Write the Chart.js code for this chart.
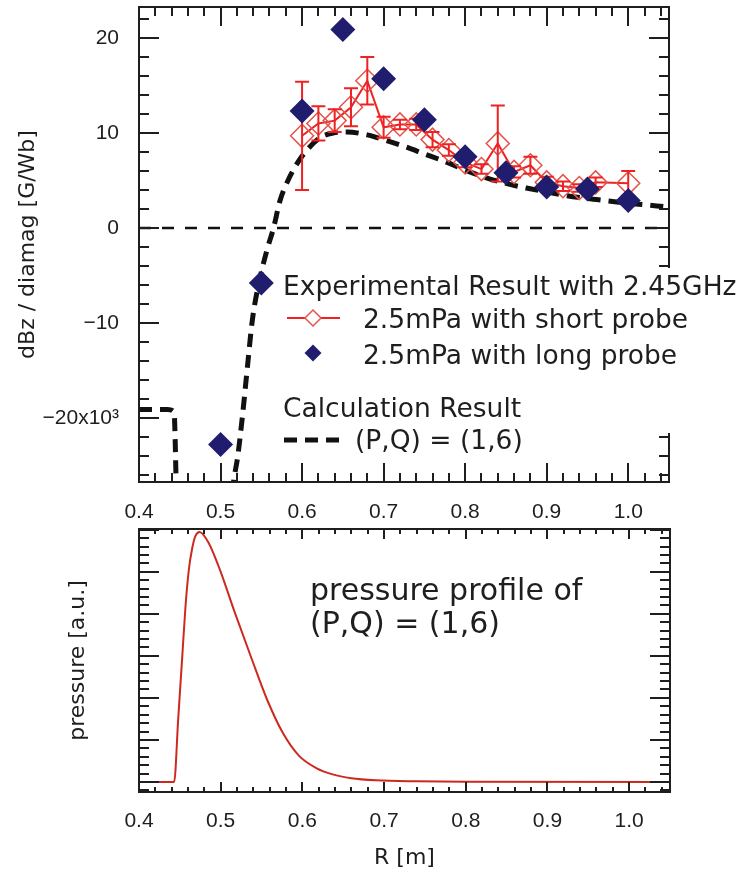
<!DOCTYPE html>
<html>
<head>
<meta charset="utf-8">
<script src="https://cdn.jsdelivr.net/npm/chart.js@4.4.1/dist/chart.umd.min.js"></script>
<style>
  html, body { margin: 0; padding: 0; background: #ffffff; }
  #wrap { position: relative; width: 740px; height: 875px; overflow: hidden; }
  canvas { position: absolute; left: 0; }
  #dbz { top: 0; }
  #press { top: 522px; }
</style>
</head>
<body>
<div id="wrap">
  <canvas id="dbz" width="740" height="525"></canvas>
  <canvas id="press" width="740" height="353"></canvas>
</div>
<script>
// ---- axis ticks ----
const rTicks = [0.4, 0.5, 0.6, 0.7, 0.8, 0.9, 1.0];
const rTickLabels = ['0.4', '0.5', '0.6', '0.7', '0.8', '0.9', '1.0'];
const dbzTicks = [20, 10, 0, -10, -20];
const dbzTickLabels = ['20', '10', '0', '\u221210', '\u221220x10\u00b3'];

// ---- experimental result, short probe (with error bars) ----
const shortR   = [0.60, 0.62, 0.64, 0.66, 0.68, 0.70, 0.72, 0.74, 0.76, 0.78, 0.80, 0.82, 0.84, 0.86, 0.88, 0.90, 0.92, 0.94, 0.96, 1.00];
const shortDbz = [9.7, 11.0, 11.3, 12.7, 15.5, 10.6, 10.9, 10.9, 9.3, 8.2, 6.9, 6.2, 8.9, 5.9, 6.6, 4.8, 4.4, 4.2, 4.8, 4.7];
const shortErr = [5.7, 1.8, 1.2, 2.0, 2.5, 1.1, 0.5, 0.6, 0.8, 0.6, 0.5, 0.5, 4.0, 0.6, 0.9, 0.6, 0.5, 0.4, 0.5, 1.3];

// ---- experimental result, long probe ----
const longR   = [0.50, 0.55, 0.60, 0.65, 0.70, 0.75, 0.80, 0.85, 0.90, 0.95, 1.00];
const longDbz = [-22.8, -5.8, 12.3, 20.9, 15.7, 11.4, 7.5, 5.8, 4.3, 4.1, 2.9];

// ---- calculation result (P,Q) = (1,6) ----
const calcR   = [0.40, 0.435, 0.443, 0.447, 0.512, 0.516, 0.521, 0.527, 0.533, 0.539, 0.547, 0.557, 0.565, 0.573, 0.583, 0.594, 0.606, 0.622, 0.638, 0.655, 0.68, 0.70, 0.725, 0.75, 0.775, 0.80, 0.825, 0.85, 0.875, 0.90, 0.925, 0.95, 0.975, 1.00, 1.025, 1.05];
const calcDbz = [-19.1, -19.1, -19.4, -30, -30, -26.7, -24.1, -19.7, -14.6, -9.7, -5.8, -2.3, 0.0, 2.9, 5.05, 6.8, 8.2, 9.5, 10.0, 10.1, 9.8, 9.3, 8.6, 7.8, 7.0, 6.1, 5.3, 4.7, 4.2, 3.8, 3.4, 3.1, 2.85, 2.6, 2.4, 2.2];

// ---- zero reference line ----
const zeroR   = [0.4, 1.05];
const zeroDbz = [0, 0];

// ---- pressure profile of (P,Q) = (1,6) ----
const pressR = [0.40, 0.443, 0.448, 0.453, 0.457, 0.461, 0.465, 0.469, 0.474, 0.485, 0.500, 0.516, 0.537, 0.557, 0.576, 0.596, 0.617, 0.637, 0.660, 0.690, 0.740, 0.800, 1.05];
const pressP = [0, 0, 1.5, 3.0, 4.2, 5.05, 5.55, 5.85, 5.95, 5.7, 5.0, 4.1, 2.98, 1.95, 1.17, 0.62, 0.33, 0.18, 0.09, 0.04, 0.015, 0.005, 0];

const pts = (xs, ys) => xs.map((x, i) => ({ x: x, y: ys[i] }));

const TICK_FONT = { family: '"Liberation Sans", Arial, sans-serif', size: 21 };
const TITLE_FONT = { family: '"DejaVu Sans", sans-serif', size: 22 };
const INK = '#1e1e1e';
const RED = '#ee2222';
const RED_MARK = '#e4544a';
const NAVY = '#201d6e';

function stepValues(first, last, step) {
  const n = Math.round((last - first) / step);
  return Array.from({ length: n + 1 }, (_, i) => first + i * step);
}
function isMajor(v, majorStep) {
  const q = v / majorStep;
  return Math.abs(q - Math.round(q)) < 1e-6;
}
// keep the plot box where the layout padding puts it
function noLabelPadding(s) {
  s.paddingTop = 0; s.paddingBottom = 0; s.paddingLeft = 0; s.paddingRight = 0;
}

// Box frame with inward major/minor ticks on all four sides
const frameTicks = {
  id: 'frameTicks',
  afterDraw(chart, args, o) {
    const { ctx, chartArea: a } = chart;
    const xs = chart.scales.x, ys = chart.scales.y;
    ctx.save();
    ctx.strokeStyle = INK;
    ctx.lineWidth = 2;
    ctx.beginPath();
    stepValues(o.x.first, o.x.last, o.x.step).forEach(v => {
      const len = isMajor(v, o.x.majorStep) ? o.x.major : o.x.minor;
      const p = Math.round(xs.getPixelForValue(v));
      ctx.moveTo(p, a.bottom); ctx.lineTo(p, a.bottom - len);
      ctx.moveTo(p, a.top); ctx.lineTo(p, a.top + len);
    });
    stepValues(o.y.first, o.y.last, o.y.step).forEach(v => {
      const len = isMajor(v, o.y.majorStep) ? o.y.major : o.y.minor;
      const p = Math.round(ys.getPixelForValue(v));
      ctx.moveTo(a.left, p); ctx.lineTo(a.left + len, p);
      ctx.moveTo(a.right, p); ctx.lineTo(a.right - len, p);
    });
    ctx.stroke();
    ctx.strokeRect(a.left, a.top, a.width, a.height);
    ctx.restore();
  }
};

// Vertical error bars on the short-probe series
const errorBars = {
  id: 'errorBars',
  afterDatasetDraw(chart, args, o) {
    if (args.index !== o.datasetIndex) return;
    const { ctx } = chart;
    const xs = chart.scales.x, ys = chart.scales.y;
    ctx.save();
    ctx.strokeStyle = RED;
    ctx.lineWidth = 2;
    ctx.beginPath();
    shortR.forEach((r, i) => {
      const px = xs.getPixelForValue(r);
      const top = ys.getPixelForValue(shortDbz[i] + shortErr[i]);
      const bot = ys.getPixelForValue(shortDbz[i] - shortErr[i]);
      ctx.moveTo(px, top); ctx.lineTo(px, bot);
      ctx.moveTo(px - 7, top); ctx.lineTo(px + 7, top);
      ctx.moveTo(px - 7, bot); ctx.lineTo(px + 7, bot);
    });
    ctx.stroke();
    ctx.restore();
  }
};

// Legend block drawn over the lower right of the dBz panel
const dbzLegend = {
  id: 'dbzLegend',
  afterDraw(chart) {
    const { ctx } = chart;
    ctx.save();
    ctx.fillStyle = '#ffffff';
    ctx.fillRect(277, 268, 463, 165);
    ctx.fillStyle = INK;
    ctx.font = '26.5px "DejaVu Sans", sans-serif';
    ctx.textBaseline = 'alphabetic';
    ctx.textAlign = 'left';
    ctx.fillText('Experimental Result with 2.45GHz', 283, 295);
    ctx.fillText('2.5mPa with short probe', 363, 328);
    ctx.fillText('2.5mPa with long probe', 363, 364);
    ctx.fillText('Calculation Result', 283, 417);
    ctx.fillText('(P,Q) = (1,6)', 355, 449);

    // short probe sample: red line with open diamond
    ctx.strokeStyle = RED;
    ctx.lineWidth = 2;
    ctx.beginPath(); ctx.moveTo(287, 318); ctx.lineTo(340, 318); ctx.stroke();
    ctx.fillStyle = '#ffffff';
    ctx.strokeStyle = RED_MARK;
    ctx.lineWidth = 1.5;
    ctx.beginPath();
    ctx.moveTo(313 - 8, 318); ctx.lineTo(313, 310); ctx.lineTo(313 + 8, 318); ctx.lineTo(313, 326); ctx.closePath();
    ctx.fill(); ctx.stroke();

    // long probe sample: filled navy diamond
    ctx.fillStyle = NAVY;
    ctx.beginPath();
    ctx.moveTo(313 - 8.5, 353); ctx.lineTo(313, 344.5); ctx.lineTo(313 + 8.5, 353); ctx.lineTo(313, 361.5); ctx.closePath();
    ctx.fill();

    // calculation sample: thick dashed line
    ctx.strokeStyle = '#111111';
    ctx.lineWidth = 5;
    ctx.setLineDash([13, 8]);
    ctx.beginPath(); ctx.moveTo(284, 440); ctx.lineTo(346, 440); ctx.stroke();
    ctx.restore();
  }
};

// Caption inside the pressure panel
const pressCaption = {
  id: 'pressCaption',
  afterDraw(chart) {
    const { ctx } = chart;
    ctx.save();
    ctx.fillStyle = INK;
    ctx.font = '30px "DejaVu Sans", sans-serif';
    ctx.textBaseline = 'alphabetic';
    ctx.textAlign = 'left';
    ctx.fillText('pressure profile of', 310, 78);
    ctx.fillText('(P,Q) = (1,6)', 310, 111);
    ctx.restore();
  }
};

new Chart(document.getElementById('dbz'), {
  type: 'scatter',
  data: {
    datasets: [
      {
        label: '2.5mPa with long probe',
        data: pts(longR, longDbz),
        showLine: false,
        pointStyle: 'rectRot',
        pointRadius: 12.5,
        pointBackgroundColor: NAVY,
        pointBorderColor: NAVY,
        pointBorderWidth: 0,
        order: 0
      },
      {
        label: '2.5mPa with short probe',
        data: pts(shortR, shortDbz),
        showLine: true,
        borderColor: RED,
        borderWidth: 2,
        tension: 0,
        pointStyle: 'rectRot',
        pointRadius: 11.5,
        pointBackgroundColor: 'rgba(255,255,255,0)',
        pointBorderColor: RED_MARK,
        pointBorderWidth: 1.5,
        order: 1
      },
      {
        label: 'zero',
        data: pts(zeroR, zeroDbz),
        showLine: true,
        borderColor: '#111111',
        borderWidth: 2.5,
        borderDash: [12, 11],
        pointRadius: 0,
        order: 2
      },
      {
        label: '(P,Q) = (1,6)',
        data: pts(calcR, calcDbz),
        showLine: true,
        borderColor: '#111111',
        borderWidth: 5,
        borderDash: [13, 8],
        borderCapStyle: 'butt',
        cubicInterpolationMode: 'monotone',
        pointRadius: 0,
        order: 3
      }
    ]
  },
  options: {
    responsive: false,
    animation: false,
    events: [],
    layout: { autoPadding: false, padding: { top: 7, right: 71, left: 0, bottom: 0 } },
    plugins: {
      legend: { display: false },
      tooltip: { enabled: false },
      frameTicks: {
        x: { first: 0.4, last: 1.04, step: 0.02, majorStep: 0.1, major: 19, minor: 9 },
        y: { first: -26, last: 22, step: 2, majorStep: 10, major: 20, minor: 10 }
      },
      errorBars: { datasetIndex: 1 }
    },
    scales: {
      x: {
        type: 'linear',
        min: 0.4,
        max: 1.05,
        grid: { display: false },
        border: { display: false },
        afterBuildTicks: s => { s.ticks = rTicks.map(v => ({ value: v })); },
        afterFit: s => { s.height = 43; noLabelPadding(s); },
        ticks: {
          autoSkip: false,
          maxRotation: 0,
          padding: 10,
          color: INK,
          font: TICK_FONT,
          callback: (v, i) => rTickLabels[i]
        }
      },
      y: {
        type: 'linear',
        min: -26.74,
        max: 23.26,
        grid: { display: false },
        border: { display: false },
        afterBuildTicks: s => { s.ticks = dbzTicks.map(v => ({ value: v })); },
        afterFit: s => { s.width = 139; noLabelPadding(s); },
        ticks: {
          autoSkip: false,
          padding: 12,
          color: INK,
          font: TICK_FONT,
          callback: (v, i) => dbzTickLabels[i]
        },
        title: {
          display: true,
          text: 'dBz / diamag [G/Wb]',
          color: INK,
          font: TITLE_FONT,
          padding: { top: 15, bottom: 0 }
        }
      }
    }
  },
  plugins: [errorBars, frameTicks, dbzLegend]
});

new Chart(document.getElementById('press'), {
  type: 'scatter',
  data: {
    datasets: [
      {
        label: 'pressure',
        data: pts(pressR, pressP),
        showLine: true,
        borderColor: '#cc2a1e',
        borderWidth: 2,
        cubicInterpolationMode: 'monotone',
        pointRadius: 0
      }
    ]
  },
  options: {
    responsive: false,
    animation: false,
    events: [],
    layout: { autoPadding: false, padding: { top: 7, right: 70, left: 0, bottom: 0 } },
    plugins: {
      legend: { display: false },
      tooltip: { enabled: false },
      frameTicks: {
        x: { first: 0.4, last: 1.04, step: 0.02, majorStep: 0.1, major: 10, minor: 5 },
        y: { first: -0.2, last: 6.0, step: 0.2, majorStep: 1, major: 20, minor: 10 }
      }
    },
    scales: {
      x: {
        type: 'linear',
        min: 0.4,
        max: 1.05,
        grid: { display: false },
        border: { display: false },
        afterBuildTicks: s => { s.ticks = rTicks.map(v => ({ value: v })); },
        afterFit: s => { s.height = 83; noLabelPadding(s); },
        ticks: {
          autoSkip: false,
          maxRotation: 0,
          padding: 9,
          color: INK,
          font: TICK_FONT,
          callback: (v, i) => rTickLabels[i]
        },
        title: {
          display: true,
          text: 'R [m]',
          color: INK,
          font: TITLE_FONT,
          padding: { top: 0, bottom: 4 }
        }
      },
      y: {
        type: 'linear',
        min: -0.24,
        max: 6.02,
        grid: { display: false },
        border: { display: false },
        afterFit: s => { s.width = 139; noLabelPadding(s); },
        ticks: { display: false },
        title: {
          display: true,
          text: 'pressure [a.u.]',
          color: INK,
          font: TITLE_FONT,
          padding: { top: 65, bottom: 0 }
        }
      }
    }
  },
  plugins: [frameTicks, pressCaption]
});
</script>
</body>
</html>
